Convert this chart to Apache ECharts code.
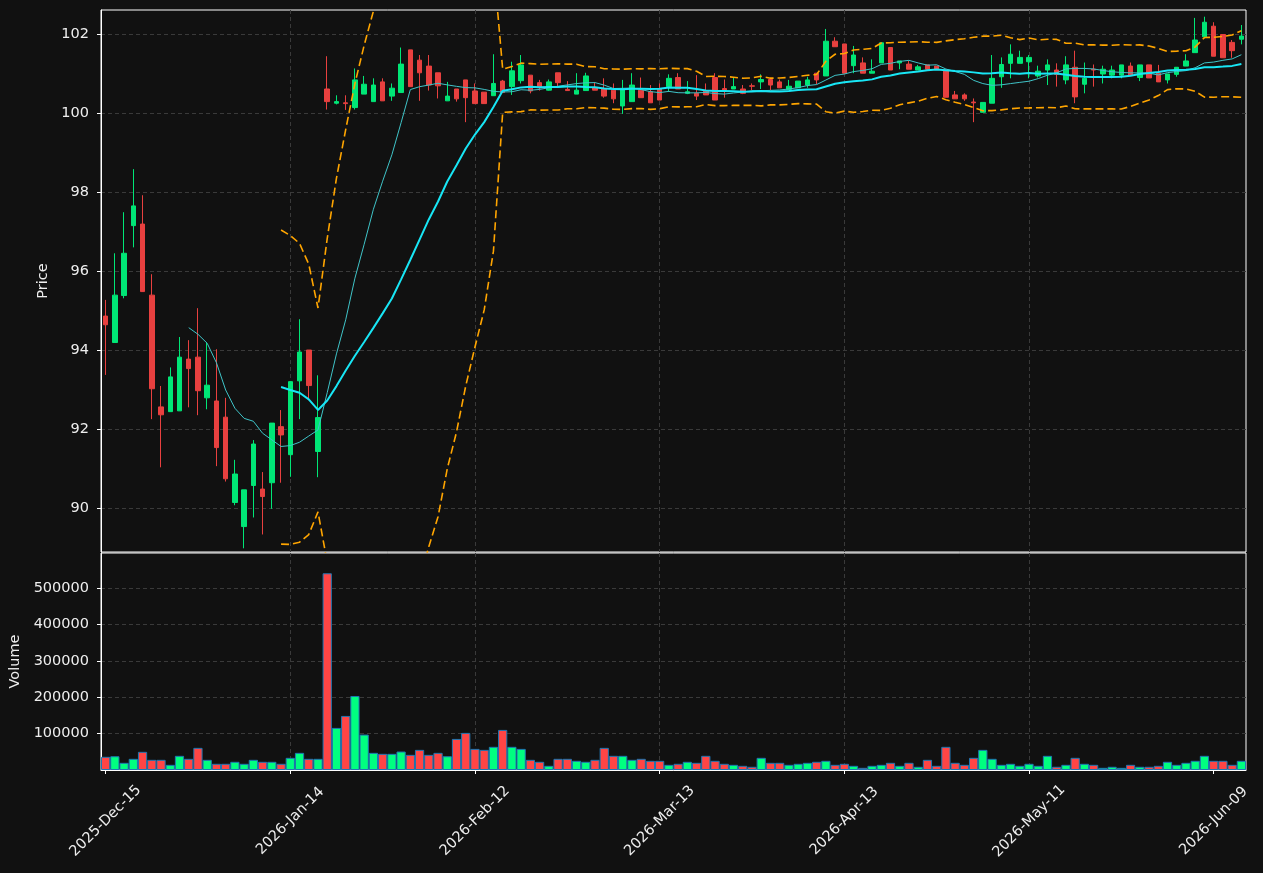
<!DOCTYPE html>
<html>
<head>
<meta charset="utf-8">
<script src="https://cdn.jsdelivr.net/npm/echarts@6/dist/echarts.min.js"></script>
<style>
  html, body { margin: 0; padding: 0; background: #111111; }
  #chart { width: 1263px; height: 873px; }
</style>
</head>
<body>
<div id="chart"></div>
<script>
// OHLC, one value per trading day
var opens = [94.86, 94.19, 95.38, 97.15, 97.19, 95.39, 92.56, 92.44, 92.46, 93.77,
  93.82, 92.79, 92.71, 92.30, 90.14, 89.53, 90.57, 90.48, 90.64, 92.06,
  91.35, 93.22, 94.00, 91.43, 100.61, 100.25, 100.26, 100.14, 100.48, 100.29,
  100.79, 100.43, 100.52, 101.60, 101.34, 101.19, 101.02, 100.31, 100.61, 100.84,
  100.56, 100.53, 100.44, 100.81, 100.67, 100.82, 100.96, 100.77, 100.58, 101.02,
  100.60, 100.48, 100.57, 100.64, 100.61, 100.58, 100.18, 100.29, 100.58, 100.54,
  100.61, 100.67, 100.90, 100.50, 100.50, 100.56, 100.90, 100.62, 100.61, 100.61,
  100.69, 100.79, 100.85, 100.79, 100.60, 100.64, 100.71, 101.01, 100.94, 101.82,
  101.75, 101.20, 101.27, 101.01, 101.27, 101.66, 101.27, 101.24, 101.09, 101.22,
  101.19, 101.09, 100.46, 100.46, 100.28, 100.02, 100.25, 100.92, 101.26, 101.26,
  101.30, 100.94, 101.09, 101.09, 100.84, 101.16, 100.73, 101.11, 100.99, 100.96,
  100.96, 101.19, 100.90, 101.22, 101.01, 100.84, 100.98, 101.19, 101.53, 101.93,
  102.20, 101.99, 101.79, 101.87];
var highs = [95.27, 96.45, 97.49, 98.58, 97.92, 95.92, 93.09, 93.56, 94.33, 94.25,
  95.06, 94.19, 94.02, 92.79, 91.22, 90.46, 91.72, 90.91, 92.15, 92.48,
  93.20, 94.78, 94.00, 93.36, 101.44, 100.45, 100.45, 101.13, 100.94, 100.88,
  100.88, 100.75, 101.66, 101.60, 101.47, 101.47, 101.02, 100.79, 100.61, 100.84,
  100.75, 100.53, 101.49, 100.84, 101.30, 101.47, 100.96, 100.84, 100.85, 101.02,
  100.81, 101.01, 101.02, 100.77, 100.88, 100.75, 100.84, 101.01, 100.90, 100.71,
  100.75, 100.98, 101.01, 100.81, 100.96, 100.75, 101.01, 100.85, 100.90, 100.71,
  100.75, 100.98, 100.90, 100.85, 100.84, 100.81, 100.92, 101.01, 102.13, 101.92,
  101.75, 101.70, 101.41, 101.36, 101.78, 101.66, 101.32, 101.32, 101.22, 101.22,
  101.19, 101.09, 100.56, 100.50, 100.37, 100.27, 101.47, 101.41, 101.74, 101.58,
  101.47, 101.20, 101.36, 101.26, 101.44, 101.58, 101.28, 101.23, 101.20, 101.20,
  101.22, 101.28, 101.22, 101.22, 101.22, 100.99, 101.16, 101.49, 102.41, 102.44,
  102.30, 101.99, 101.85, 102.23];
var lows = [93.37, 94.18, 95.31, 96.60, 95.47, 92.25, 91.03, 92.44, 92.46, 92.55,
  92.35, 92.50, 91.06, 90.67, 90.07, 88.98, 89.76, 89.33, 89.98, 90.64,
  90.79, 92.25, 92.73, 90.78, 100.09, 100.22, 100.08, 100.09, 100.48, 100.29,
  100.31, 100.31, 100.52, 100.67, 100.31, 100.57, 100.37, 100.31, 100.29, 99.77,
  100.24, 100.24, 100.44, 100.52, 100.46, 100.75, 100.50, 100.57, 100.57, 100.67,
  100.57, 100.48, 100.57, 100.58, 100.39, 100.25, 99.98, 100.29, 100.39, 100.26,
  100.33, 100.54, 100.61, 100.48, 100.33, 100.46, 100.33, 100.39, 100.61, 100.48,
  100.58, 100.61, 100.58, 100.64, 100.60, 100.64, 100.64, 100.73, 100.94, 101.68,
  101.01, 101.01, 101.01, 101.01, 101.27, 101.09, 101.11, 101.11, 101.09, 101.11,
  101.11, 100.40, 100.36, 100.31, 99.77, 100.02, 100.25, 100.64, 100.88, 101.26,
  100.88, 100.90, 100.71, 100.67, 100.73, 100.25, 100.50, 100.67, 100.75, 100.88,
  100.88, 100.96, 100.81, 100.89, 100.79, 100.75, 100.92, 101.19, 101.53, 101.89,
  101.44, 101.40, 101.40, 101.74];
var closes = [94.64, 95.39, 96.45, 97.65, 95.48, 93.02, 92.36, 93.32, 93.82, 93.53,
  92.97, 93.11, 91.53, 90.74, 90.86, 90.46, 91.62, 90.29, 92.15, 91.85,
  93.20, 93.95, 93.10, 92.29, 100.29, 100.29, 100.24, 100.84, 100.73, 100.71,
  100.31, 100.63, 101.24, 100.67, 101.02, 100.71, 100.69, 100.43, 100.36, 100.39,
  100.24, 100.24, 100.75, 100.52, 101.07, 101.22, 100.56, 100.64, 100.79, 100.77,
  100.57, 100.58, 100.94, 100.58, 100.43, 100.36, 100.61, 100.71, 100.39, 100.26,
  100.33, 100.88, 100.61, 100.54, 100.43, 100.46, 100.33, 100.58, 100.67, 100.50,
  100.68, 100.85, 100.71, 100.64, 100.68, 100.81, 100.84, 100.84, 101.82, 101.68,
  101.01, 101.47, 101.01, 101.06, 101.78, 101.09, 101.32, 101.11, 101.17, 101.11,
  101.11, 100.40, 100.36, 100.36, 100.26, 100.27, 100.88, 101.23, 101.49, 101.41,
  101.41, 101.06, 101.22, 100.98, 101.22, 100.41, 100.88, 101.09, 101.11, 101.09,
  101.22, 100.96, 101.22, 100.89, 100.79, 100.99, 101.16, 101.32, 101.85, 102.30,
  101.44, 101.40, 101.58, 101.95];
var volumes = [36200, 37800, 19700, 30700, 49900, 27900, 27900, 14200, 38900, 30700,
  60800, 27900, 17000, 17000, 22500, 17000, 27900, 22500, 22500, 17000,
  33400, 47100, 30700, 30700, 540300, 115600, 148500, 203300, 97300, 47100,
  44400, 44400, 50700, 41600, 55300, 41600, 47100, 37800, 85400, 101900,
  58000, 55300, 63600, 110100, 63600, 58000, 27900, 22500, 11500, 30700,
  30700, 25200, 22500, 27900, 60800, 38900, 38900, 27900, 30700, 25200,
  25200, 14200, 17000, 22500, 19700, 38900, 25200, 17000, 14200, 11500,
  8800, 33400, 19700, 19700, 14200, 17000, 19700, 22500, 25200, 14200,
  17000, 11500, 6000, 11500, 14200, 19700, 11500, 19700, 8800, 27900,
  11500, 63600, 19700, 14200, 33400, 55300, 30700, 14200, 17000, 11500,
  17000, 11500, 38900, 8800, 14200, 33400, 17000, 14200, 6000, 8800,
  6000, 14200, 8800, 8800, 11500, 22500, 14200, 19700, 25200, 38900,
  25200, 25200, 14200, 25200];

// trading calendar
var startDay = '2025-12-15';
var holidays = ['2025-12-25', '2026-01-01', '2026-01-19', '2026-02-16', '2026-04-03', '2026-05-25'];
var monthNames = ['Jan', 'Feb', 'Mar', 'Apr', 'May', 'Jun', 'Jul', 'Aug', 'Sep', 'Oct', 'Nov', 'Dec'];

function tradingDays (start, count) {
  var out = []
  var d = new Date(start + 'T00:00:00Z')
  while (out.length < count) {
    var iso = d.toISOString().slice(0, 10)
    var wd = d.getUTCDay()
    if (wd !== 0 && wd !== 6 && holidays.indexOf(iso) < 0) {
      var dd = ('0' + d.getUTCDate()).slice(-2)
      out.push(d.getUTCFullYear() + '-' + monthNames[d.getUTCMonth()] + '-' + dd)
    }
    d.setUTCDate(d.getUTCDate() + 1)
  }
  return out
}

function rollingMean (arr, n) {
  return arr.map(function (v, i) {
    if (i < n - 1) return '-'
    var s = 0
    for (var k = i - n + 1; k <= i; k++) s += arr[k]
    return s / n
  })
}

// bollinger band, population std
function rollingBand (arr, n, mult) {
  var mean = rollingMean(arr, n)
  return arr.map(function (v, i) {
    if (i < n - 1) return '-'
    var s = 0
    for (var k = i - n + 1; k <= i; k++) s += Math.pow(arr[k] - mean[i], 2)
    return mean[i] + mult * Math.sqrt(s / n)
  })
}

var dates = tradingDays(startDay, closes.length)
var ohlc = closes.map(function (c, i) { return [opens[i], c, lows[i], highs[i]] })
var ma10 = rollingMean(closes, 10)
var ma20 = rollingMean(closes, 20)
var bbUp = rollingBand(closes, 20, 2)
var bbDn = rollingBand(closes, 20, -2)

var upColor = '#00e676'
var downColor = '#e8403f'
var volUp = '#00ff80'
var volDown = '#ff4545'
var textColor = '#eeeeee'
var fontFamily = 'DejaVu Sans'
var gridLine = { show: true, showMinLine: false, showMaxLine: false, lineStyle: { color: '#3a3a3a', type: [4, 3], width: 1 } }

var volData = volumes.map(function (v, i) {
  return { value: v, itemStyle: { color: closes[i] >= opens[i] ? volUp : volDown } }
})

function everyTwenty (index) { return index % 20 === 0 }

var option = {
  backgroundColor: '#111111',
  animation: false,
  textStyle: { fontFamily: fontFamily },
  grid: [
    { left: 101, right: 17, top: 10, height: 542, show: true, borderColor: '#ffffff', borderWidth: 1, backgroundColor: '#111111', containLabel: false, outerBoundsMode: 'none' },
    { left: 101, right: 17, top: 553, height: 217, show: true, borderColor: '#ffffff', borderWidth: 1, backgroundColor: '#111111', containLabel: false, outerBoundsMode: 'none' }
  ],
  xAxis: [
    {
      type: 'category', gridIndex: 0, data: dates, boundaryGap: true,
      axisLine: { show: false }, axisTick: { show: false }, axisLabel: { show: false },
      splitLine: Object.assign({ interval: everyTwenty, alignWithLabel: true }, gridLine)
    },
    {
      type: 'category', gridIndex: 1, data: dates, boundaryGap: true,
      axisLine: { show: true, lineStyle: { color: '#ffffff' } },
      axisTick: { show: true, interval: 19, alignWithLabel: true, length: 4, lineStyle: { color: '#ffffff' } },
      axisLabel: {
        interval: 19, rotate: 45, align: 'center', verticalAlign: 'middle', margin: 51,
        color: textColor, fontSize: 14.5, fontFamily: fontFamily
      },
      splitLine: Object.assign({ interval: everyTwenty, alignWithLabel: true }, gridLine)
    }
  ],
  yAxis: [
    {
      type: 'value', gridIndex: 0, min: 88.886, max: 102.61, splitNumber: 7, scale: true,
      axisLine: { show: true, lineStyle: { color: '#ffffff' } },
      axisTick: { show: true, length: 4, lineStyle: { color: '#ffffff' } },
      axisLabel: { color: textColor, fontSize: 14.5, margin: 12, showMinLabel: false, showMaxLabel: false, fontFamily: fontFamily },
      splitLine: gridLine,
      name: 'Price', nameLocation: 'middle', nameGap: 41,
      nameTextStyle: { color: textColor, fontSize: 14.5, fontFamily: fontFamily }
    },
    {
      type: 'value', gridIndex: 1, min: 0, max: 596000, splitNumber: 6,
      axisLine: { show: true, lineStyle: { color: '#ffffff' } },
      axisTick: { show: true, length: 4, lineStyle: { color: '#ffffff' } },
      axisLabel: {
        color: textColor, fontSize: 14.5, margin: 12, showMinLabel: false, showMaxLabel: false, fontFamily: fontFamily,
        formatter: function (v) { return String(v) }
      },
      splitLine: gridLine,
      name: 'Volume', nameLocation: 'middle', nameGap: 74,
      nameTextStyle: { color: textColor, fontSize: 14.5, fontFamily: fontFamily }
    }
  ],
  series: [
    {
      type: 'candlestick', xAxisIndex: 0, yAxisIndex: 0, data: ohlc, barWidth: 5, z: 2,
      itemStyle: { color: upColor, color0: downColor, borderColor: upColor, borderColor0: downColor, borderWidth: 1 }
    },
    {
      type: 'line', xAxisIndex: 0, yAxisIndex: 0, data: ma10, showSymbol: false, z: 3,
      lineStyle: { color: '#3fc4c8', width: 1 }
    },
    {
      type: 'line', xAxisIndex: 0, yAxisIndex: 0, data: ma20, showSymbol: false, z: 3,
      lineStyle: { color: '#18e6f5', width: 2 }
    },
    {
      type: 'line', xAxisIndex: 0, yAxisIndex: 0, data: bbUp, showSymbol: false, z: 3,
      lineStyle: { color: '#ffa500', width: 1.6, type: [8, 4] }
    },
    {
      type: 'line', xAxisIndex: 0, yAxisIndex: 0, data: bbDn, showSymbol: false, z: 3,
      lineStyle: { color: '#ffa500', width: 1.6, type: [8, 4] }
    },
    {
      type: 'bar', xAxisIndex: 1, yAxisIndex: 1, data: volData, barCategoryGap: '0%',
      itemStyle: { borderColor: '#1f77b4', borderWidth: 1 }
    }
  ]
}

var myChart = echarts.init(document.getElementById('chart'))
myChart.setOption(option)
</script>
</body>
</html>
